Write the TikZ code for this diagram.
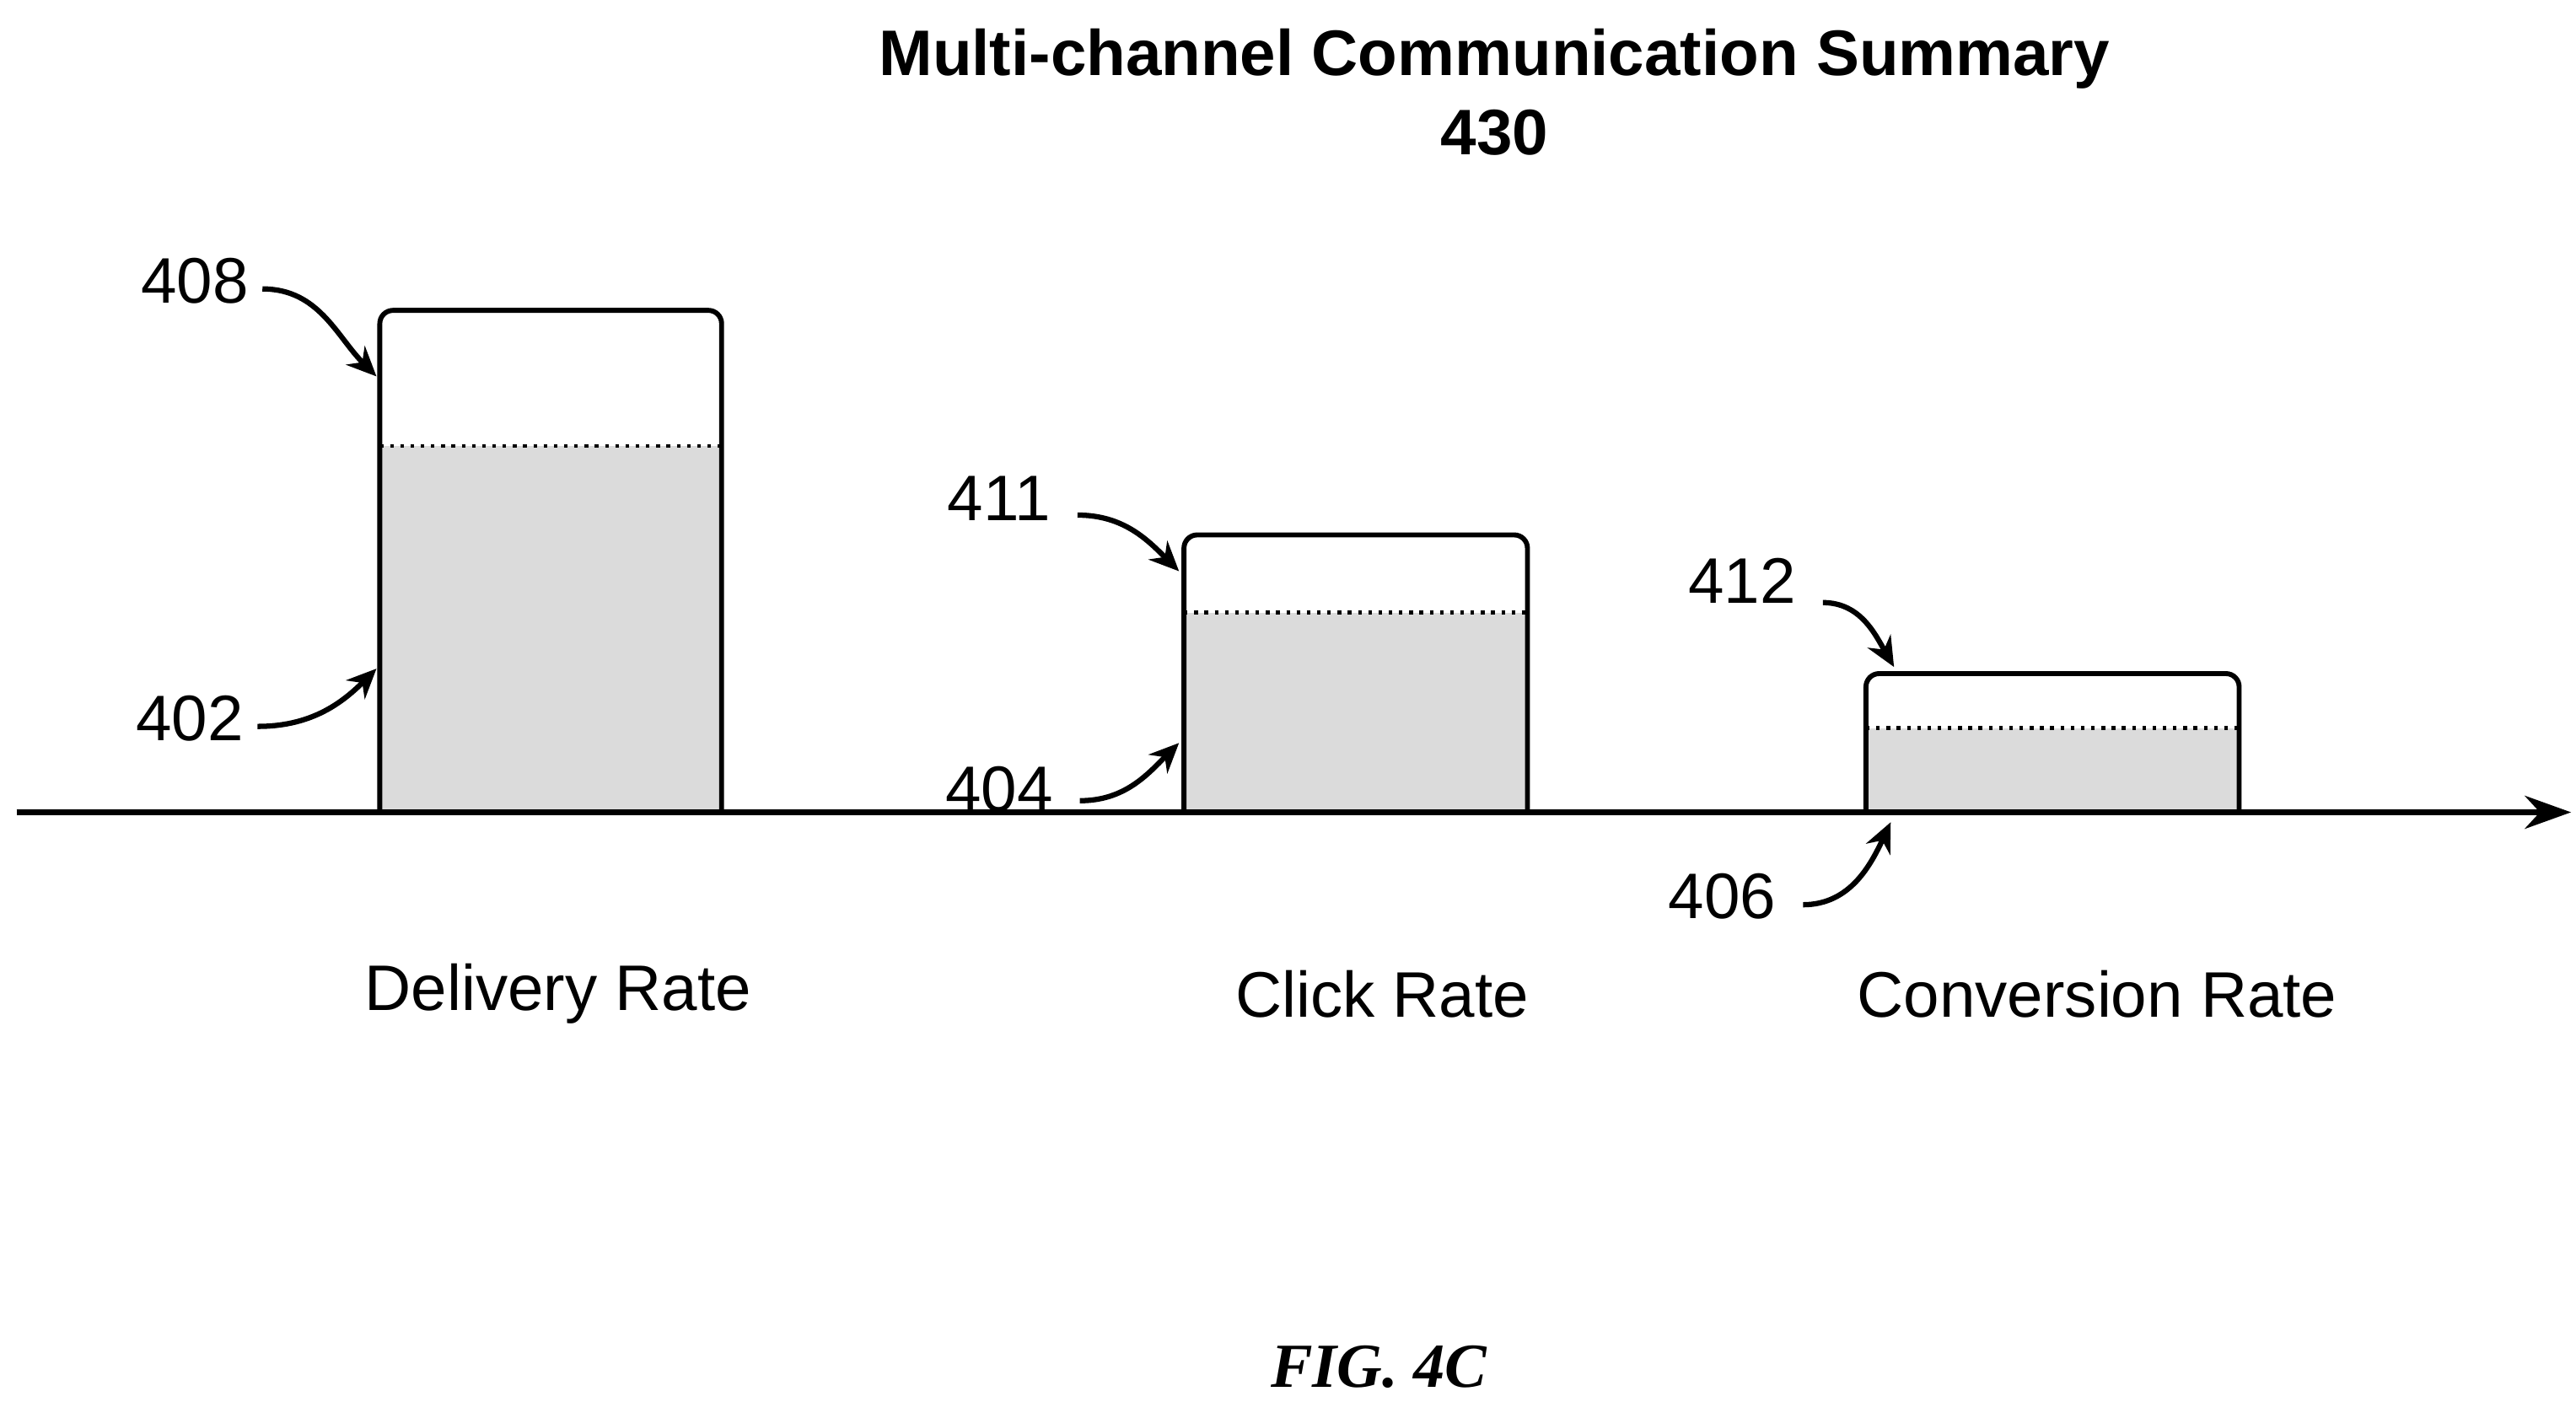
\documentclass[tikz,border=0pt]{standalone}
\usepackage{fontspec}
\setmainfont{Liberation Sans}
\newfontfamily\figfont{Liberation Serif}
\usetikzlibrary{arrows.meta}
\begin{document}
\begin{tikzpicture}[x=0.5pt,y=-0.5pt,
  bar/.style={draw=black,line width=1.5pt,rounded corners=4pt,fill=white},
  lbl/.style={font=\fontsize{19.5}{22}\selectfont,inner sep=0pt},
  callout/.style={line width=1.6pt,-{Stealth[length=9pt,width=8pt]}},
  divider/.style={dotted,line width=1.1pt}]
\useasboundingbox (0,0) rectangle (1560,849);
\node[font=\bfseries\fontsize{19.5}{22}\selectfont,align=center] (title) at (905,56) {Multi-channel Communication Summary\\[2pt]430};
% bars
\foreach \n/\xa/\xb/\yt/\yd in {b1/230/437/188/270, b2/717/925/324/371, b3/1130/1356/408/441}{
  \fill[gray!28] (\xa,\yd) rectangle (\xb,492);
  \draw[bar,fill=none] (\xa,492) -- (\xa,\yt) -- (\xb,\yt) -- (\xb,492);
  \draw[divider] (\xa,\yd) -- (\xb,\yd);
  \coordinate (\n) at (\xa,\yt);
}
\coordinate (ax0) at (10,492);
\coordinate (ax1) at (1557,492);
\draw[line width=1.6pt,-{Stealth[length=14pt,width=10pt]}] (ax0) -- (ax1);
% labels
\node[lbl] (l408) at (118,170) {408};
\node[lbl] (l402) at (115,435) {402};
\node[lbl] (l411) at (605,302) {411};
\node[lbl] (l404) at (605,478) {404};
\node[lbl] (l412) at (1055,352) {412};
\node[lbl] (l406) at (1043,543) {406};
\coordinate (t408) at (228,228);
\coordinate (t402) at (228,405);
\coordinate (t411) at (714,346);
\coordinate (t404) at (714,450);
\coordinate (t412) at (1147,404);
\coordinate (t406) at (1145,498);
\draw[callout] (l408.east)++(8,5) to[out=0,in=135] (t408);
\draw[callout] (l402.east)++(8,5) to[out=0,in=-135] (t402);
\draw[callout] (l411.east)++(16,10) to[out=0,in=135] (t411);
\draw[callout] (l404.east)++(16,7) to[out=0,in=-135] (t404);
\draw[callout] (l412.east)++(16,13) to[out=0,in=120] (t412);
\draw[callout] (l406.east)++(16,5) to[out=0,in=-115] (t406);
\node[lbl] (c1) at (338,602) {Delivery Rate};
\node[lbl] (c2) at (837,602) {Click Rate};
\node[lbl] (c3) at (1270,602) {Conversion Rate};
\node[font=\figfont\bfseries\itshape\fontsize{19}{22}\selectfont] (fig) at (835,828) {FIG. 4C};
\end{tikzpicture}
\end{document}
